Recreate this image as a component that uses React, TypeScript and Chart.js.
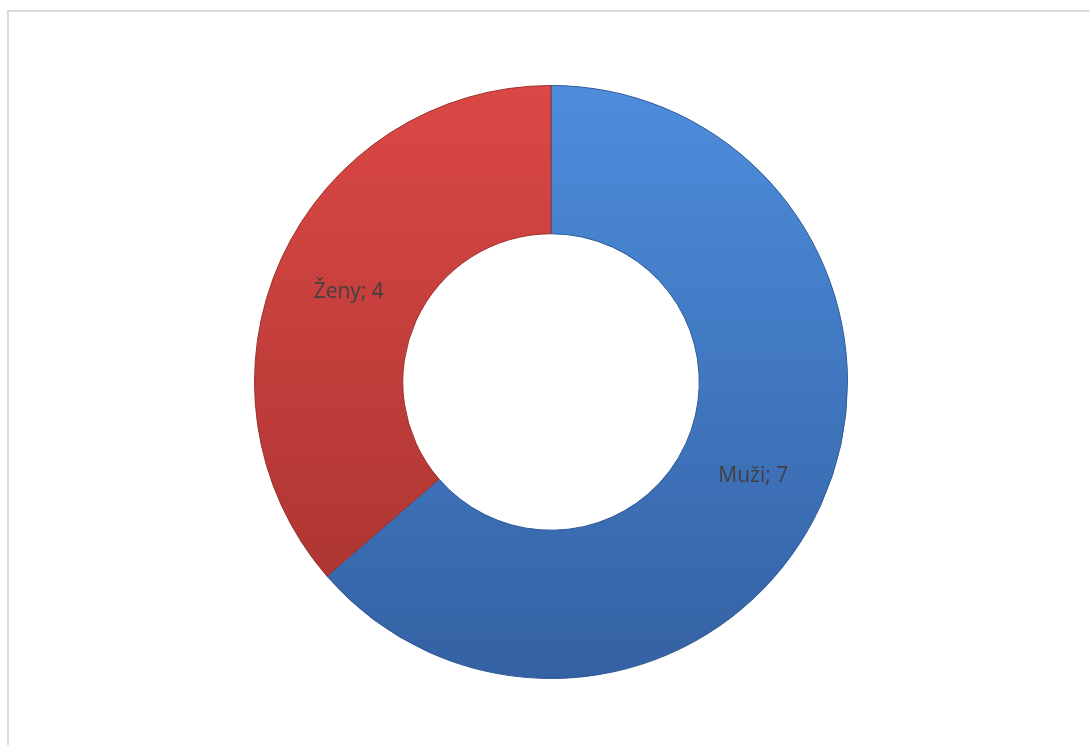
import React, { useEffect, useRef } from "react";
import { Chart, registerables } from "chart.js";

Chart.register(...registerables);

const categories = ["Muži", "Ženy"];
const values = [7, 4];
const topColors = ["#4d8ddc", "#db4845"];
const bottomColors = ["#3461a3", "#a5322f"];
const edgeColors = ["#2f5a96", "#9a302c"];

const labelPlugin = {
  id: "segLabels",
  afterDatasetsDraw(chart: any) {
    const ctx = chart.ctx;
    const meta = chart.getDatasetMeta(0);
    ctx.save();
    ctx.fillStyle = "#404040";
    ctx.font = '21px "Open Sans", "Noto Sans", sans-serif';
    ctx.textAlign = "center";
    ctx.textBaseline = "middle";
    meta.data.forEach((arc: any, i: number) => {
      const p = arc.tooltipPosition();
      ctx.fillText(`${categories[i]}; ${values[i]}`, p.x, p.y + 2);
    });
    ctx.restore();
  },
};

export default function App() {
  const ref = useRef<HTMLCanvasElement | null>(null);
  useEffect(() => {
    if (!ref.current) return;
    document.body.style.overflow = "hidden";
    const chart = new Chart(ref.current, {
      type: "doughnut",
      data: {
        labels: categories,
        datasets: [
          {
            data: values,
            backgroundColor: (c: any) => {
              const area = c.chart.chartArea;
              if (!area) return topColors[c.dataIndex % 2];
              const g = c.chart.ctx.createLinearGradient(0, area.top, 0, area.bottom);
              g.addColorStop(0, topColors[c.dataIndex]);
              g.addColorStop(1, bottomColors[c.dataIndex]);
              return g;
            },
            borderColor: edgeColors,
            borderWidth: 1,
          },
        ],
      },
      options: {
        responsive: false,
        animation: false,
        cutout: "50%",
        rotation: 0,
        layout: { padding: { left: 13, right: 0, top: 85, bottom: 66 } },
        plugins: {
          legend: { display: false },
          tooltip: { enabled: false },
        },
      },
      plugins: [labelPlugin],
    });
    return () => chart.destroy();
  }, []);
  return (
    <div style={{ position: "fixed", left: 0, top: 0, width: 1089, height: 745, background: "#fff" }}>
      <div
        style={{
          position: "absolute",
          left: 7,
          top: 10,
          right: 0,
          bottom: 0,
          borderTop: "2px solid #d9d9d9",
          borderLeft: "2px solid #d9d9d9",
        }}
      />
      <canvas ref={ref} width={1089} height={745} style={{ position: "absolute", left: 0, top: 0 }} />
    </div>
  );
}
